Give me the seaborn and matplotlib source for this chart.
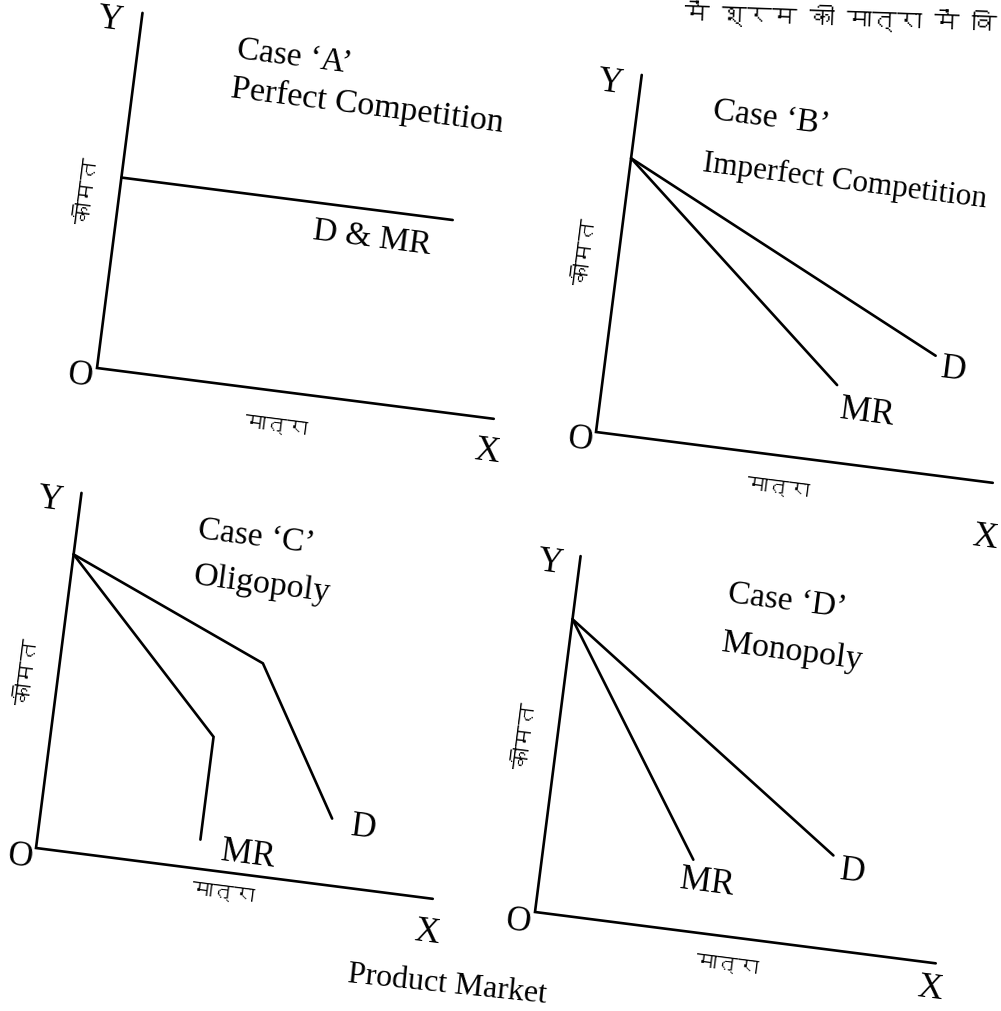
import numpy as np
import pandas as pd
import matplotlib
matplotlib.use("Agg")
import matplotlib.pyplot as plt
from matplotlib import font_manager
from matplotlib.ft2font import FT2Font
from matplotlib.transforms import Affine2D
import seaborn as sns

# ---------------- data (local diagram units: quantity q, price p) ----------------
PANELS = ["A", "B", "C", "D"]
AXIS_Q = [100, 100, 100, 101]      # length of the quantity axis
AXIS_P = [89.5, 90, 89.5, 89.7]    # length of the price axis

# Case A: perfect competition, D = MR horizontal
A_DMR_Q = [0, 83.5]
A_DMR_P = [48, 48]
# Case B: imperfect competition
B_D_Q = [0, 81.8]
B_D_P = [69, 29.7]
B_MR_Q = [0, 58.3]
B_MR_P = [69, 19.3]
# Case C: oligopoly (kinked demand, discontinuous MR)
C_D_Q = [0, 50.4, 72.5]
C_D_P = [74, 53, 16.7]
C_MR_Q = [0, 40.5, 40.5]
C_MR_P = [74, 33.2, 7.3]
# Case D: monopoly
D_D_Q = [0, 72.2]
D_D_P = [73.8, 23.5]
D_MR_Q = [0, 37.6]
D_MR_P = [73.8, 18]

CASE_TITLES = ["Case \u2018A\u2019", "Case \u2018B\u2019", "Case \u2018C\u2019", "Case \u2018D\u2019"]
CASE_NAMES = ["Perfect Competition", "Imperfect Competition", "Oligopoly", "Monopoly"]
PRICE_LABEL = "कीमत"
QTY_LABEL = "मात्रा"
FOOTER = "Product Market"
HEADER = "में श्रम की मात्रा में वि"

# ---------------- page geometry ----------------
W, H = 1001, 1012
ORIGINS = {"A": (97, 369), "B": (596, 433), "C": (36, 849), "D": (535, 913)}
TILT = 7.3          # page tilt, degrees clockwise
UNIT = 4.0          # pixels per diagram unit


def find_font(ch, fallback="DejaVu Sans"):
    seen = set()
    for f in font_manager.fontManager.ttflist:
        if f.fname in seen:
            continue
        seen.add(f.fname)
        try:
            if ord(ch) in FT2Font(f.fname).get_charmap():
                return f.name
        except Exception:
            pass
    return fallback


sns.set_theme(style="white")
DEVA = find_font("क")
SERIF = "Liberation Serif"
plt.rcParams["font.family"] = [SERIF, "DejaVu Serif"]

fig = plt.figure(figsize=(W / 100, H / 100), dpi=100)
fig.patch.set_facecolor("white")
ax = fig.add_axes([0, 0, 1, 1])
ax.set_xlim(0, W)
ax.set_ylim(H, 0)
ax.axis("off")

c, s = np.cos(np.radians(TILT)), np.sin(np.radians(TILT))


def panel_transform(key):
    ox, oy = ORIGINS[key]
    m = np.array([[UNIT * c, UNIT * s, ox],
                  [UNIT * s, -UNIT * c, oy],
                  [0, 0, 1]])
    return Affine2D(m) + ax.transData


LW = 1.9


def draw(key, q, p):
    df = pd.DataFrame({"q": q, "p": p})
    sns.lineplot(data=df, x="q", y="p", sort=False, estimator=None,
                 color="black", linewidth=LW, ax=ax,
                 transform=panel_transform(key), solid_joinstyle="miter")


# axes of each diagram
for key, lq, lp in zip(PANELS, AXIS_Q, AXIS_P):
    draw(key, [0, 0, lq], [lp, 0, 0])

draw("A", A_DMR_Q, A_DMR_P)
draw("B", B_D_Q, B_D_P)
draw("B", B_MR_Q, B_MR_P)
draw("C", C_D_Q, C_D_P)
draw("C", C_MR_Q, C_MR_P)
draw("D", D_D_Q, D_D_P)
draw("D", D_MR_Q, D_MR_P)

ax.set_xlim(0, W)
ax.set_ylim(H, 0)
ax.set_xlabel("")
ax.set_ylabel("")

ROT = -TILT


def label(x, y, txt, size=24, rot=ROT, ha="center", va="center",
          family=None, weight="normal"):
    kw = dict(fontsize=size, rotation=rot, rotation_mode="anchor",
              ha=ha, va=va, color="black", fontweight=weight)
    if family is not None:
        kw["family"] = family
    ax.text(x, y, txt, **kw)


# titles
TITLE_POS = {"A": (294, 57), "B": (771, 118), "C": (256, 537), "D": (787, 601)}
NAME_POS = {"A": (367, 106), "C": (262, 585), "D": (792, 652)}
for key, t, n in zip(PANELS, CASE_TITLES, CASE_NAMES):
    label(*TITLE_POS[key], t, size=24)
    if key == "B":
        label(702, 171, n, size=22.5, ha="left", va="baseline")
    else:
        label(*NAME_POS[key], n, size=24.5)

# axis letters
AXIS_LETTERS = {
    "A": [(110, 20, "Y"), (80, 376, "O"), (487, 452, "X")],
    "B": [(610, 83, "Y"), (580, 440, "O"), (985, 538, "X")],
    "C": [(50, 500, "Y"), (20, 857, "O"), (427, 933, "X")],
    "D": [(550, 563, "Y"), (518, 922, "O"), (930, 989, "X")],
}
for key in PANELS:
    for x, y, t in AXIS_LETTERS[key]:
        label(x, y, t, size=25)

# curve labels
label(372, 238, "D & MR", size=24)
label(953, 370, "D", size=25)
label(867, 413, "MR", size=25)
label(363, 828, "D", size=25)
label(248, 855, "MR", size=25)
label(852, 872, "D", size=25)
label(707, 883, "MR", size=25)

# Hindi axis captions
deva = [DEVA, "DejaVu Sans"]
PRICE_POS = {"A": (88, 191), "B": (586, 252), "C": (28, 672), "D": (526, 736)}
QTY_POS = {"A": (276, 426), "B": (778, 488), "C": (223, 893), "D": (727, 965)}
for key in PANELS:
    label(*PRICE_POS[key], PRICE_LABEL, size=16, rot=90 - TILT,
          family=deva, weight="bold")
    label(*QTY_POS[key], QTY_LABEL, size=15, family=deva, weight="bold")

# running text along the page edges
label(996, 33, HEADER, size=18, rot=-2, ha="right", va="baseline",
      family=deva, weight="bold")
label(347, 982, FOOTER, size=23, rot=-6, ha="left", va="baseline")

fig.savefig("out.png", dpi=100, facecolor="white")
